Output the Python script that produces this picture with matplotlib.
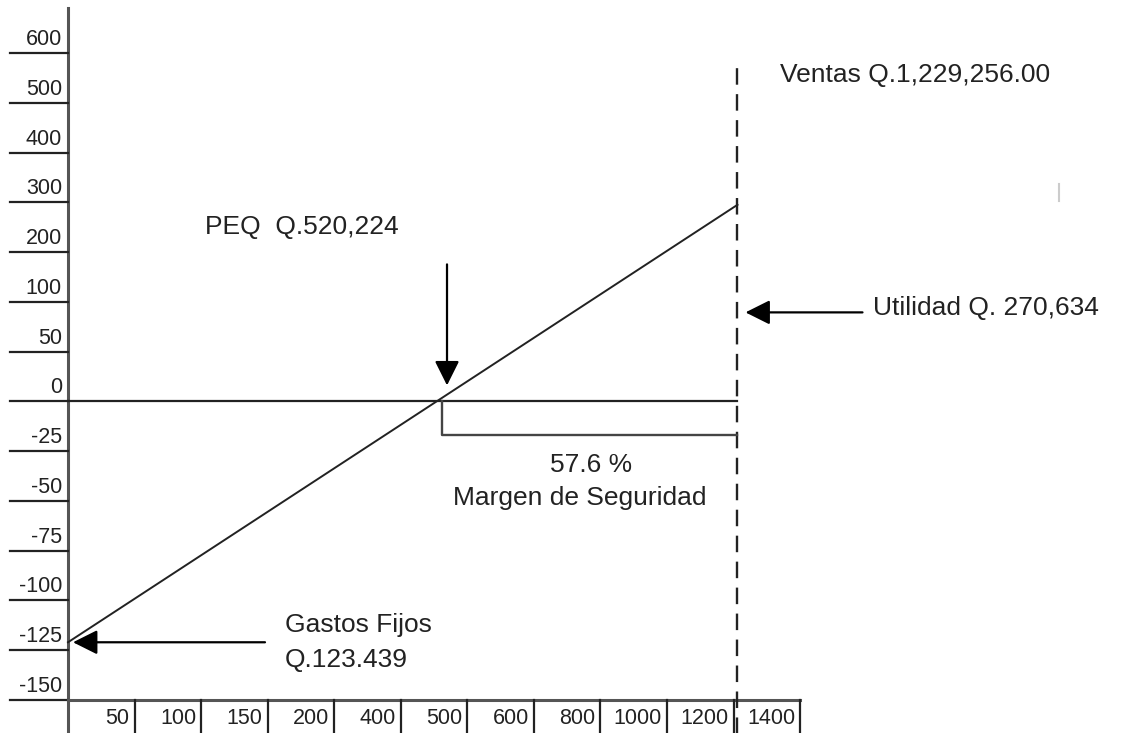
import matplotlib
matplotlib.use("Agg")
from matplotlib import pyplot as plt

# etiquetas de los ejes (escala dibujada a mano: posiciones equidistantes)
y_labels = ['-150', '-125', '-100', '-75', '-50', '-25', '0',
            '50', '100', '200', '300', '400', '500', '600']
x_labels = ['50', '100', '150', '200', '400', '500', '600',
            '800', '1000', '1200', '1400']

# puntos clave en unidades de marca del grafico
gastos_fijos_y = 1.16     # inicio de la recta (Gastos Fijos)
ventas_x = 10.06          # linea de ventas
utilidad_y = 9.95         # final de la recta
cero_y = 6.0              # linea de cero
peq_x = 5.62              # punto de equilibrio

plt.rcParams['font.family'] = ['Liberation Sans', 'DejaVu Sans']
fs = 15.5      # marcas de los ejes
fa = 19        # anotaciones
col = '#222222'

fig = plt.figure(figsize=(11.28, 7.33), dpi=100)
ax = fig.add_axes([0, 0, 1, 1])
px_x = 66.55
px_y = 49.77
ax.set_xlim(-68 / px_x, (1128 - 68) / px_x)
ax.set_ylim(-(733 - 700) / px_y, 700 / px_y)
ax.axis('off')

n_y = len(y_labels)
n_x = len(x_labels)

# eje y y marcas
ax.plot([0, 0], [-0.7, 692 / px_y], color='#555555', lw=2.2)
for i, lab in enumerate(y_labels):
    ax.plot([-58 / px_x, 0], [i, i], color=col, lw=1.6)
    ax.text(-6 / px_x, i + 3 / px_y, lab, ha='right', va='bottom',
            fontsize=fs, color=col)

# eje x y marcas
ax.plot([0, n_x], [0, 0], color='#555555', lw=2.2)
for k, lab in enumerate(x_labels):
    ax.plot([k + 1, k + 1], [0, -0.7], color=col, lw=1.6)
    ax.text(k + 1 - 5 / px_x, -18 / px_y, lab, ha='right', va='center',
            fontsize=fs, color=col)

# linea de cero
ax.plot([0, ventas_x], [cero_y, cero_y], color=col, lw=1.6)

# recta de utilidad
ax.plot([0, ventas_x], [gastos_fijos_y, utilidad_y], color=col, lw=1.4)

# linea de ventas (discontinua)
ax.plot([ventas_x, ventas_x], [-0.7, 638 / px_y], color=col, lw=1.7,
        linestyle=(0, (7, 4)))

# margen de seguridad
m_y = cero_y - 34 / px_y
ax.plot([peq_x, peq_x, ventas_x], [cero_y, m_y, m_y], color='#444444', lw=1.7)
ax.text(591 / px_x - 68 / px_x, (700 - 465) / px_y, '57.6 %',
        ha='center', va='center', fontsize=fa, color=col)
ax.text(580 / px_x - 68 / px_x, (700 - 498) / px_y, 'Margen de Seguridad',
        ha='center', va='center', fontsize=fa, color=col)

arrow = dict(arrowstyle='-|>,head_length=1.5,head_width=0.75', color='black',
             lw=1.6, shrinkA=0, shrinkB=0)

# PEQ
ax.annotate('', xy=(peq_x + 5 / px_x, cero_y + 16 / px_y),
            xytext=(peq_x + 5 / px_x, cero_y + 137 / px_y), arrowprops=arrow)
ax.text(peq_x - 237 / px_x, cero_y + 174 / px_y, 'PEQ  Q.520,224',
        ha='left', va='center', fontsize=fa, color=col)

# Utilidad
ax.annotate('', xy=(ventas_x + 8 / px_x, cero_y + 89 / px_y),
            xytext=(ventas_x + 125 / px_x, cero_y + 89 / px_y), arrowprops=arrow)
ax.text(ventas_x + 136 / px_x, cero_y + 93 / px_y, 'Utilidad Q. 270,634',
        ha='left', va='center', fontsize=fa, color=col)

# Ventas
ax.text(ventas_x + 43 / px_x, 625 / px_y, 'Ventas Q.1,229,256.00',
        ha='left', va='center', fontsize=fa, color=col)

# Gastos fijos
ax.annotate('', xy=(5 / px_x, gastos_fijos_y),
            xytext=(197 / px_x, gastos_fijos_y), arrowprops=arrow)
ax.text(217 / px_x, gastos_fijos_y + 17 / px_y, 'Gastos Fijos',
        ha='left', va='center', fontsize=fa, color=col)
ax.text(217 / px_x, gastos_fijos_y - 18 / px_y, 'Q.123.439',
        ha='left', va='center', fontsize=fa, color=col)

# pequena marca suelta a la derecha
ax.plot([ventas_x + 322 / px_x] * 2, [utilidad_y + 0.08, utilidad_y + 0.42],
        color='#cccccc', lw=1.5)

fig.savefig('out.png', dpi=100)
